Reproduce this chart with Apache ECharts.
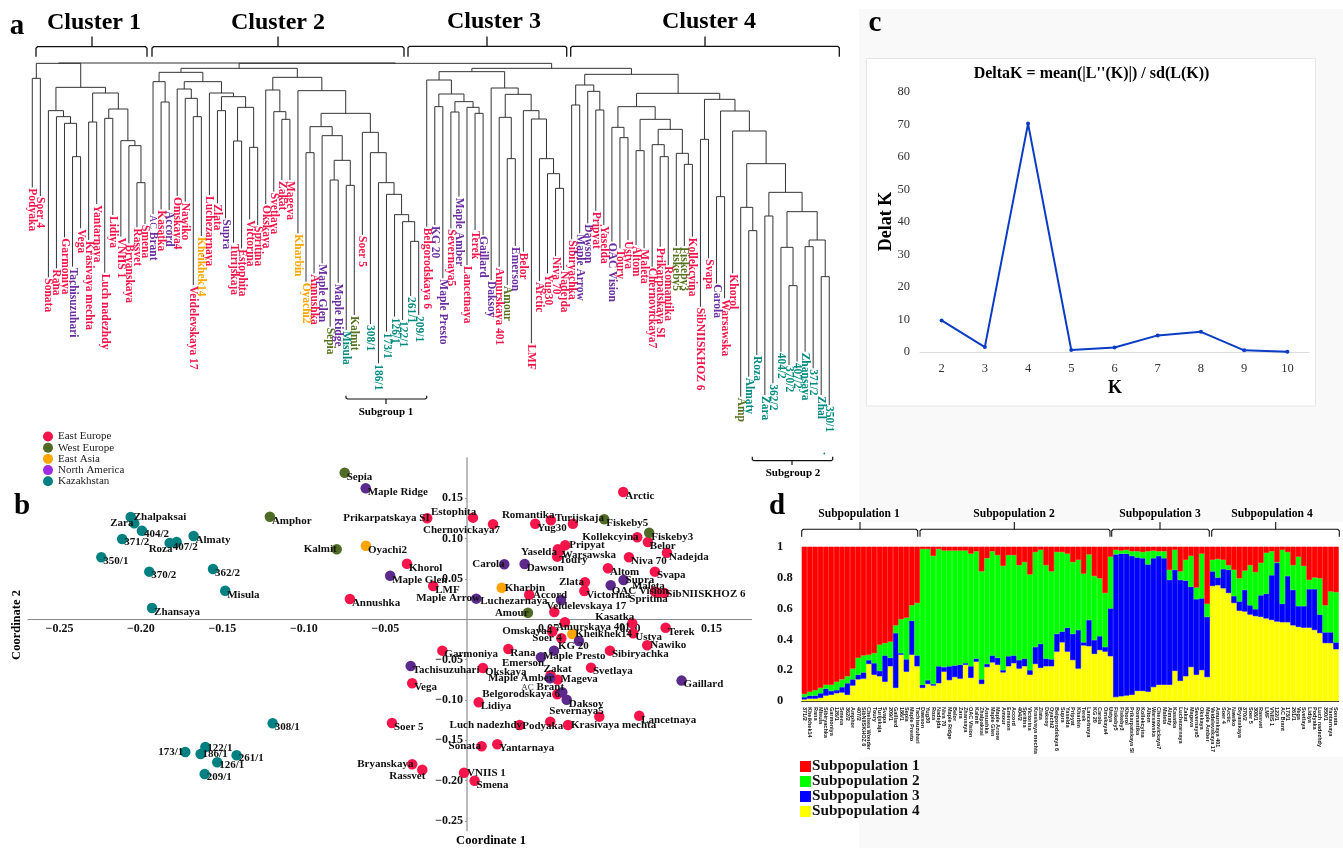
<!DOCTYPE html>
<html><head><meta charset="utf-8">
<style>html,body{margin:0;padding:0;background:#fff}#c{width:1343px;height:848px}</style>
<script src="https://cdn.jsdelivr.net/npm/echarts@6/dist/echarts.min.js"></script>
</head><body><div id="c"></div>
<script>
// ---------- panel a: dendrogram ----------
const leafNames = ['Podyaka','Soer 4','Sonata','Rana','Garmoniya','Tachisuzuhari','Vega','Krasivaya mechta','Yantarnaya','Luch nadezhdy','Lidiya','VNIIS 1','Bryanskaya','Rassvet','Smena',
'AC Brant','Kasatka','Accord','Omskaya4','Nawiko','Veidelevskaya 17','Kheikhek14','Luchezarnaya','Zlata','Supra','Turijskaja','Estophita','Victorina','Spritina','Okskaya','Svetlaya','Zakat','Mageva','Kharbin','Oyachi2','Annushka','Maple Glen','Sepia','Maple Ridge','Misula','Kalmit','Soer 5','308/1','186/1','173/1','126/1','122/1','261/1','209/1','Belgorodskaya 6',
'KG 20','Maple Presto','Severnaya5','Maple Amber','Lancetnaya','Terek','Gaillard','Daksoy','Amurskaya 401','Amour','Emerson','Belor','LMF','Arctic','Yug30','Niva 70','Nadejda',
'Sibiryachka','Maple Arrow','Dawson','Pripyat','Yaselda','OAC Vision','Toury','Ustya','Altom','Maleta','Chernovickaya7','Prikarpatskaya SI','Romantika','Fiskeby5','Fiskeby3','Kollekcyina','SibNIISKHOZ 6','Svapa','Carola','Warsawska','Khorol','Amphor','Almaty','Roza','Zara','362/2','404/2','370/2','407/2','Zhansaya','371/2','Zhalpaksai','350/1'];
const leafEnds = [562,588,832,805,712,800,685,720,612,818,645,710,730,682,672,
642,628,630,588,605,855,708,585,610,655,728,745,658,675,612,575,540,540,700,845,820,790,980,848,990,945,705,972,1090,995,950,960,888,945,680,
675,835,685,590,795,690,705,840,800,855,738,755,1030,843,820,768,810,
718,700,670,632,675,725,745,720,735,745,800,740,795,738,738,710,920,775,850,895,820,1190,1130,1065,1185,1150,1055,1095,1085,1055,1105,1185,1215];
const leafRegions = ['E','E','E','E','E','N','E','E','E','E','E','E','E','E','E',
'N','E','N','E','E','E','A','E','E','N','E','E','E','E','E','E','E','E','A','A','E','N','W','N','K','W','E','K','K','K','K','K','K','K','E',
'N','N','E','N','E','E','N','N','E','W','N','E','E','E','E','E','E',
'E','N','N','E','E','N','E','E','E','E','E','E','E','W','W','E','E','E','N','E','E','W','K','K','K','K','K','K','K','K','K','K','K'];
// labels cut short in the dendrogram of the reference
const leafTextOverride = {'Amphor':'Amp','Zhalpaksai':'Zhal'};
const cluster1 = [190,[235,'Podyaka','Soer 4'],[262,
  [332,'Sonata',[350,'Rana',[370,'Garmoniya',[470,'Tachisuzuhari','Vega']]]],
  [279,[366,'Krasivaya mechta','Yantarnaya'],[327,[355,'Luch nadezhdy','Lidiya'],[422,'VNIIS 1',[437,'Bryanskaya',[548,'Rassvet','Smena']]]]]]];
const cluster2 = [205,
  [217,[245,'AC Brant',[306,'Kasatka','Accord']],
    [245,[267,'Omskaya4',[295,'Nawiko',[350,'Veidelevskaya 17','Kheikhek14']]],
      [279,'Luchezarnaya',[290,[332,'Zlata','Supra'],[322,[423,'Turijskaja','Estophita'],[442,'Victorina','Spritina']]]]]],
  [232,[270,'Okskaya',[335,'Svetlaya',[358,'Zakat','Mageva']]],
    [272,'Kharbin',[340,
      [380,[458,'Oyachi2','Annushka'],[407,'Maple Glen',[481,[540,'Sepia','Maple Ridge'],[556,'Misula','Kalmit']]]],
      [397,'Soer 5',[458,'308/1',[548,'186/1',[583,'173/1',[644,'126/1',[665,'122/1',[724,'261/1','209/1']]]]]]]]]]];
const cluster3 = [215,
  [240,'Belgorodskaya 6',[282,[320,'KG 20','Maple Presto'],[305,[336,'Severnaya5','Maple Amber'],[322,'Lancetnaya',[340,'Terek','Gaillard']]]]],
  [264,'Daksoy',[283,[352,'Amurskaya 401',[476,'Amour','Emerson']],[332,'Belor',[357,'LMF',[476,'Arctic',[521,'Yug30',[565,'Niva 70','Nadejda']]]]]]]];
const cluster4 = [223,
  [255,[315,'Sibiryachka','Maple Arrow'],[274,'Dawson',[330,'Pripyat','Yaselda']]],
  [280,[320,[382,'OAC Vision',[413,'Toury','Ustya']],
      [358,[452,'Altom','Maleta'],[388,[434,'Chernovickaya7',[470,'Prikarpatskaya SI','Romantika']],[460,'Fiskeby5',[493,'Fiskeby3','Kollekcyina']]]]],
    [298,[418,'SibNIISKHOZ 6','Svapa'],[333,[590,'Carola','Warsawska'],[393,'Khorol',[491,[622,'Amphor',[692,'Almaty','Roza']],
      [577,[648,'Zara','362/2'],[635,[742,'404/2',[857,'370/2','407/2']],[720,[740,'Zhansaya','371/2'],[830,'Zhalpaksai','350/1']]]]]]]]]];
const treeRoot = [189,cluster1,[190,cluster2,[205,cluster3,cluster4]]];

// ---------- panel b: PCoA points [name, coord1, coord2] ----------
const eastEurope = [['Arctic',.0959,.1579],['Estophita',.0037,.1261],['Chernovickaya7',.0160,.1179],['Prikarpatskaya SI',-.0244,.1253],['Romantika',.0515,.1228],['Yug30',.0419,.1186],['Turijskaja',.0650,.1186],['Kollekcyina',.1045,.1017],['Belor',.1110,.0959],['Nadejda',.1227,.0826],['Niva 70',.0994,.0769],['Pripyat',.0603,.0918],['Yaselda',.0558,.0868],['Warsawska',.0569,.0851],['Toury',.0554,.0777],['Svapa',.1153,.0591],['Altom',.0865,.0633],['Zlata',.0724,.0459],['Victorina',.0720,.0351],['Maleta',.1153,.0343],['Spritina',.1168,.0330],['SibNIISKHOZ 6',.1211,.0326],['Luchezarnaya',.0382,.0305],['Veidelevskaya 17',.0536,.0091],['Khorol',-.0368,.0690],['LMF',-.0207,.0413],['Annushka',-.0718,.0252],['Kasatka',.1014,-.0050],['Amurskaya 401',.0601,-.0037],['Omskaya4',.0523,-.0153],['Soer 4',.0579,-.0236],['Ustya',.1020,-.0174],['Terek',.1219,-.0104],['Nawiko',.1106,-.0323],['Sibiryachka',.0877,-.0389],['Rana',.0254,-.0368],['Garmoniya',-.0151,-.0389],['Okskaya',.0098,-.0604],['Svetlaya',.0761,-.0600],['Zakat',.0513,-.0695],['Mageva',.0556,-.0749],['Belgorodskaya 6',.0554,-.0931],['Lidiya',.0072,-.1030],['Severnaya5',.0812,-.1208],['Lancetnaya',.1057,-.1196],['Podyaka',.0511,-.1270],['Luch nadezhdy',.0323,-.1311],['Krasivaya mechta',.0620,-.1311],['Sonata',.0090,-.1576],['Yantarnaya',.0186,-.1551],['VNIIS 1',-.0018,-.1903],['Smena',.0047,-.2003],['Vega',-.0336,-.0794],['Soer 5',-.0460,-.1287],['Bryanskaya',-.0336,-.1799],['Rassvet',-.0274,-.1866]];
const westEurope = [['Sepia',-.0750,.1819],['Amphor',-.1209,.1273],['Kalmit',-.0799,.0868],['Fiskeby5',.0842,.1241],['Fiskeby3',.1118,.1074],['Amour',.0374,.0082]];
const eastAsia = [['Oyachi2',-.0620,.0913],['Kharbin',.0213,.0392],['Kheikhek14',.0646,-.0182]];
const northAmerica = [['Maple Ridge',-.0621,.1625],['Maple Glen',-.0471,.0541],['Tachisuzuhari',-.0345,-.0579],['Carola',.0229,.0682],['Dawson',.0354,.0686],['Maple Arrow',.0057,.0256],['Supra',.0961,.0488],['OAC Vision',.0882,.0422],['Accord',.0577,.0239],['KG 20',.0687,-.0269],['Maple Presto',.0534,-.0389],['Emerson',.0454,-.0472],['Gaillard',.1317,-.0761],['Maple Amber',.0509,-.0732],['AC Brant',.0585,-.0906],['Daksoy',.0612,-.0998]];
const kazakhstan = [['Zhalpaksai',-.2063,.1269],['Zara',-.2041,.1191],['404/2',-.1994,.1099],['Almaty',-.1677,.1033],['371/2',-.2115,.0996],['407/2',-.1781,.0959],['Roza',-.1824,.0947],['350/1',-.2243,.0769],['370/2',-.1949,.0591],['362/2',-.1558,.0624],['Misula',-.1483,.0355],['Zhansaya',-.1932,.0140],['308/1',-.1192,-.1290],['173/1',-.1728,-.1646],['122/1',-.1605,-.1584],['186/1',-.1634,-.1671],['261/1',-.1413,-.1687],['126/1',-.1532,-.1774],['209/1',-.1609,-.1919]];
const coordTicksX = [-.25,-.2,-.15,-.1,-.05,.05,.1,.15];
const coordTicksY = [.15,.1,.05,-.05,-.1,-.15,-.2,-.25];
// label placement relative to each marker, in pixels (default is [2,4])
const labelOffsets = {'Zhalpaksai':[3,0],'Zara':[-24,0],'404/2':[2,3],'371/2':[2,3],'407/2':[-4,5],'Roza':[-21,6],'173/1':[-27,0],'122/1':[2,1],'186/1':[2,0],'261/1':[2,3],'126/1':[2,3],'209/1':[2,3],
'Kalmit':[-33,0],'Bryanskaya':[-55,0],'Rassvet':[-33,6],'Prikarpatskaya SI':[-84,0],'Estophita':[-42,-5],'Chernovickaya7':[-70,6],'Romantika':[-49,-5],'Turijskaja':[-18,-6],'Kollekcyina':[-55,0],'Pripyat':[4,0],'Yaselda':[-37,3],'Zlata':[-26,0],'Maleta':[-23,-5],'Spritina':[-28,6],'SibNIISKHOZ 6':[2,1],'Accord':[-28,-5],'Luchezarnaya':[-49,6],'Maple Arrow':[-60,0],'Carola':[-32,0],'Kharbin':[3,0],'OAC Vision':[1,6],'Supra':[2,0],'Veidelevskaya 17':[-8,-6],'Amour':[-33,0],'Kasatka':[-37,-6],'Amurskaya 401':[-9,5],'Omskaya4':[-50,0],'Soer 4':[-29,0],'Nawiko':[3,0],'Zakat':[-7,-6],'Mageva':[3,0],'Maple Amber':[-62,0],'AC Brant':[-41,-5],'Belgorodskaya 6':[-75,0],'Severnaya5':[-50,-5],'Podyaka':[-28,5],'Luch nadezhdy':[-70,0],'Krasivaya mechta':[3,0],'Sonata':[-33,0],'VNIIS 1':[3,0],'Kheikhek14':[3,0],'Emerson':[-39,6],'Maple Presto':[-11,6],'KG 20':[-21,5]};

// ---------- panel c: Delta K ----------
const kValues = ['2','3','4','5','6','7','8','9','10'];
const deltaK = [9.7,1.5,70.2,0.6,1.4,5.1,6.2,0.5,0.1];

// ---------- panel d: structure bar plot ----------
const accessions = ['371/2','Kheikhek14','Rana','Misula','Sibiryachka','Garmoniya','126/1','Smena','362/2','Amphor','407/2','SibNIISKHOZ 6','Chelsea Wonder','Toury','Turijskaja','Svapa','209/1','Gaillard','186/1','Sepia','Maple Presto','Tachisuzuhari',
'Dawson','Yug30','Roza','Nadejda','Niva 70','Maple Ridge','Belor','Zara','Zhansaya','OAC Vision','Kalmit','Zhalpaksai','Annushka','Maple Glen','Maple Arrow','Amour','Emerson','Accord','404/2','Spritina','Victorina','Krasivaya mechta','Zlata','Daksoy','Oyachi2','Belgorodskaya 6','Supra','Yaselda','Pripyat','Kharbin','Terek','Lancetnaya','KG 20','Carola','Omskaya4','Ustya',
'Fiskeby5','Fiskeby3','Khorol','Prikarpatskaya SI','Romantika','Kollekcyina','Altom','Warsawska','Chernovickaya7','Maleta','Almaty','Kasatka','Luchezarnaya','Zakat','Mageva','Severnaya5','Okskaya','Maple Amber',
'Veidelevskaya 17','Amurskaya 401','Soer 4','Arctic','Nawiko','Bryanskaya','370/2','Soer 5','308/1','Rassvet','LMF','VNIIS 1','122/1','AC Brant','173/1','261/1','Vega','Svetlaya','Lidiya','Podyaka','Luch nadezhdy','350/1','Yantarnaya','Sonata'];
// upper edge of each colour band, read bar by bar
const yellowTop = [.01,.015,.015,.02,.035,.04,.05,.055,.04,.10,.14,.145,.24,.17,.16,.125,.225,.085,.30,.19,.30,.225,
.085,.11,.10,.115,.19,.135,.155,.145,.235,.15,.255,.11,.22,.25,.235,.185,.225,.245,.21,.225,.17,.24,.215,.225,.225,.32,.38,.32,.265,.21,.36,.355,.305,.33,.32,.29,
.025,.03,.035,.04,.065,.065,.06,.09,.105,.105,.105,.195,.13,.16,.22,.17,.20,.155,
.745,.75,.73,.70,.635,.585,.58,.56,.55,.545,.535,.525,.515,.51,.51,.49,.48,.475,.475,.46,.44,.375,.375,.335];
const blueTop = [.025,.035,.035,.05,.08,.065,.07,.09,.115,.14,.17,.185,.265,.245,.195,.295,.28,.44,.31,.27,.52,.295,
.105,.135,.11,.225,.22,.225,.23,.235,.245,.225,.275,.14,.24,.295,.28,.20,.29,.295,.265,.275,.20,.35,.37,.275,.27,.435,.45,.475,.435,.46,.38,.525,.395,.42,.35,.60,
.95,.955,.955,.94,.93,.925,.885,.925,.94,.925,.785,.85,.785,.78,.74,.66,.665,.545,
.84,.80,.855,.85,.68,.645,.72,.62,.595,.685,.695,.815,.895,.63,.81,.72,.615,.615,.725,.725,.56,.445,.445,.38];
const greenTop = [.045,.06,.07,.085,.105,.105,.125,.14,.16,.21,.28,.295,.30,.31,.365,.375,.385,.49,.53,.54,.62,.635,
.985,.985,.94,.985,.975,.975,.975,.975,.975,.955,.97,.84,.925,.97,.945,.875,.945,.945,.88,.90,.82,.965,.98,.88,.84,.965,.965,.955,.90,.915,.825,.95,.81,.795,.70,.935,
.98,.975,.98,.97,.97,.965,.97,.975,.97,.97,.85,.98,.84,.915,.94,.735,.955,.63,
.915,.92,.915,.88,.85,.795,.845,.88,.835,.895,.96,.97,.90,.98,.965,.88,.935,.875,.785,.80,.795,.62,.71,.705];

// ---------- helpers ----------
const SERIF = '"Liberation Serif","Times New Roman",serif';
const regionColor = {E:'#f5154a',W:'#4f6b25',A:'#ffa500',N:'#5b2a8c',K:'#008080'};
const labelColor = {E:'#f5154a',W:'#55731f',A:'#ffa500',N:'#6a2ca0',K:'#008a80'};
const segments = [];
function walk(n){
  if (typeof n === 'string'){ const i = leafNames.indexOf(n); return {x:i,y:leafEnds[i]}; }
  const a = walk(n[1]), b = walk(n[2]), h = n[0];
  segments.push([a.x,h,b.x,h],[a.x,h,a.x,a.y],[b.x,h,b.x,b.y]);
  return {x:(a.x+b.x)/2,y:h};
}
walk(treeRoot);
const pts = (rows,code,name)=>({
  type:'scatter',name,xAxisIndex:1,yAxisIndex:1,symbolSize:10.5,
  itemStyle:{color:regionColor[code],opacity:1},
  label:{show:true,position:'inside',align:'left',verticalAlign:'middle',color:'#111',fontFamily:SERIF,fontWeight:'bold',fontSize:11,
    formatter:p=>p.name==='AC Brant'?'{t|AC} Brant':p.name,
    rich:{t:{fontFamily:SERIF,fontWeight:'normal',fontSize:9,color:'#333'}}},
  data:rows.map(r=>({name:r[0],value:[r[1],r[2]],label:{offset:labelOffsets[r[0]]||[2,4]}}))
});
const txt=(text,x,y,size,opt={})=>({type:'text',x,y,rotation:opt.rot||0,silent:true,
  style:{text,fontFamily:SERIF,fontWeight:opt.w||'bold',fontSize:size,fill:opt.c||'#000',align:opt.a||'center',verticalAlign:'middle'}});
const bracket=(x0,x1,xc,yBar,yTip,yTick,lw=1.3)=>[
  {type:'polyline',silent:true,shape:{points:[[x0,yTip],[x0,yBar+1.5],[x0+1.5,yBar],[x1-1.5,yBar],[x1,yBar+1.5],[x1,yTip]]},style:{stroke:'#111',lineWidth:lw,fill:null}},
  {type:'line',silent:true,shape:{x1:xc,y1:yBar,x2:xc,y2:yTick},style:{stroke:'#111',lineWidth:lw}}];
const bracketUp=(x0,x1,xc,yBar,yTip,yTick)=>[
  {type:'polyline',silent:true,shape:{points:[[x0,yTip],[x0,yBar-1],[x0+1.5,yBar],[x1-1.5,yBar],[x1,yBar-1],[x1,yTip]]},style:{stroke:'#111',lineWidth:1.2,fill:null}},
  {type:'line',silent:true,shape:{x1:xc,y1:yBar,x2:xc,y2:yTick},style:{stroke:'#111',lineWidth:1.2}}];

const graphicEls = [
  {type:'rect',silent:true,shape:{x:859,y:9,width:484,height:839},style:{fill:'#f9f9f9'}},
  {type:'rect',silent:true,shape:{x:866.5,y:58.5,width:449,height:347.5},style:{fill:'#fff',stroke:'#e6e6e6',lineWidth:1}},
  {type:'rect',silent:true,shape:{x:859,y:522,width:484,height:235},style:{fill:'#fff'}},
  txt('a',17,27,29),txt('b',22,507,29),txt('c',875,24,29),txt('d',777,507,29),
  txt('Cluster 1',94,23,24),txt('Cluster 2',278,23,24),txt('Cluster 3',494,22,24),txt('Cluster 4',709,22,24),
  ...bracket(36,147,92,46.7,56.7,36.5),...bracket(152,404,278,46.7,56.7,36.5),...bracket(408,566.7,487,46.3,56.7,36.5),...bracket(570.7,839.3,705,46.3,56.7,36.5),
  ...bracketUp(346,426.7,386,399,395.7,404),txt('Subgroup 1',386,412,11),
  ...bracketUp(752.3,832.7,792,460.7,456.7,465),txt('Subgroup 2',793,473,11),
  {type:'circle',silent:true,shape:{cx:824.3,cy:453.5,r:0.9},style:{fill:'#008a80'}},
  txt('Coordinate 2',17,625,12.5,{rot:Math.PI/2}),txt('Coordinate 1',491,841,12.5),
  txt("DeltaK = mean(|L''(K)|) / sd(L(K))",1091.5,74,16),
  txt('Delat K',886,221.5,18,{rot:Math.PI/2}),txt('K',1115,388,18),
  txt('Subpopulation 1',859,514,11.6),txt('Subpopulation 2',1014,514,11.6),txt('Subpopulation 3',1160,514,11.6),txt('Subpopulation 4',1272,514,11.6),
  ...bracket(801.7,917.7,860,529.3,536.7,522,1.1),...bracket(920,1110,1014.3,529.3,536.7,522,1.1),...bracket(1111.7,1209.3,1160,529.3,536.7,522,1.1),...bracket(1211.7,1339.3,1275.7,529.3,536.7,522,1.1)
];

const chart = echarts.init(document.getElementById('c'),null,{renderer:'canvas'});
const hiddenAxis=(g,extra)=>Object.assign({type:'value',gridIndex:g,show:false},extra);
const stackBar=(name,color,vals)=>({type:'bar',name,xAxisIndex:3,yAxisIndex:3,stack:'q',barWidth:'100%',
  itemStyle:{color,borderColor:color,borderWidth:0.6},data:vals});
chart.setOption({
  animation:false,
  backgroundColor:'#fff',
  textStyle:{fontFamily:SERIF},
  graphic:{elements:graphicEls},
  legend:[
    {left:43,top:431,orient:'vertical',padding:0,itemGap:0.2,itemWidth:10,itemHeight:10,icon:'circle',selectedMode:false,
      textStyle:{fontFamily:SERIF,fontSize:11,color:'#222',padding:[0,0,0,0]},itemStyle:{opacity:1},
      data:[{name:'East Europe'},{name:'West Europe'},{name:'East Asia'},{name:'North America',itemStyle:{color:'#a02be0'}},{name:'Kazakhstan'}]},
    {left:800,top:759,orient:'vertical',padding:0,itemGap:0,itemWidth:9,itemHeight:9,icon:'rect',selectedMode:false,
      textStyle:{fontFamily:SERIF,fontSize:15.3,fontWeight:'bold',color:'#111',padding:[0,0,0,-3]},
      data:['Subpopulation 1','Subpopulation 2','Subpopulation 3','Subpopulation 4']}
  ],
  grid:[
    {left:0,top:0,width:850,height:470,containLabel:false},
    {left:28,top:458,width:723.7,height:372.7},
    {left:920,top:91.7,width:389,height:260.3},
    {left:801.7,top:546.7,width:537,height:154.3}
  ],
  xAxis:[
    hiddenAxis(0,{min:-4.012,max:101.578}),
    {type:'value',gridIndex:1,min:-.2693,max:.1747,position:'bottom',offset:-211.4,splitLine:{show:false},
      axisLine:{onZero:false,lineStyle:{color:'#8a8a8a',width:1}},axisTick:{show:false},
      axisLabel:{customValues:coordTicksX,formatter:v=>v.toFixed(2).replace('-','\u2212'),color:'#111',fontFamily:SERIF,fontWeight:'bold',fontSize:12,margin:4}},
    {type:'category',gridIndex:2,data:kValues,boundaryGap:true,
      axisLine:{lineStyle:{color:'#dcdcdc'}},axisTick:{show:false},axisLabel:{color:'#333',fontFamily:SERIF,fontSize:12.5,margin:10}},
    {type:'category',gridIndex:3,data:accessions,boundaryGap:true,
      axisLine:{lineStyle:{color:'#333',width:1}},axisTick:{show:false},
      axisLabel:{interval:0,rotate:-90,fontSize:5.5,fontWeight:'bold',fontFamily:'"Liberation Sans",sans-serif',color:'#111',margin:6,hideOverlap:false}}
  ],
  yAxis:[
    hiddenAxis(0,{min:0,max:1410,inverse:true}),
    {type:'value',gridIndex:1,min:-.2623,max:.2001,position:'left',offset:-439,splitLine:{show:false},
      axisLine:{onZero:false,lineStyle:{color:'#aaa',width:1.6}},axisTick:{show:true,length:2,customValues:coordTicksY,lineStyle:{color:'#999'}},
      axisLabel:{customValues:coordTicksY,formatter:v=>v.toFixed(2).replace('-','\u2212'),color:'#111',fontFamily:SERIF,fontWeight:'bold',fontSize:12,margin:4}},
    {type:'value',gridIndex:2,min:0,max:80,interval:10,splitLine:{show:false},axisLine:{show:false},axisTick:{show:false},
      axisLabel:{color:'#333',fontFamily:SERIF,fontSize:12.5,margin:10}},
    {type:'value',gridIndex:3,min:0,max:1,interval:.2,splitLine:{show:false},axisLine:{show:false},axisTick:{show:false},
      axisLabel:{align:'left',margin:24.7,color:'#111',fontFamily:SERIF,fontWeight:'bold',fontSize:12.5}}
  ],
  series:[
    {type:'custom',name:'tree',xAxisIndex:0,yAxisIndex:0,silent:true,clip:false,coordinateSystem:'cartesian2d',encode:{x:[0,2],y:[1,3]},data:segments,
      renderItem:(p,api)=>{const s=api.coord([api.value(0),api.value(1)]),e=api.coord([api.value(2),api.value(3)]);
        return {type:'line',shape:{x1:s[0],y1:s[1],x2:e[0],y2:e[1]},style:{stroke:'#333',lineWidth:1}};}},
    {type:'custom',name:'leaves',xAxisIndex:0,yAxisIndex:0,silent:true,clip:false,coordinateSystem:'cartesian2d',encode:{x:0,y:1},
      data:leafNames.map((n,i)=>[i,leafEnds[i]]),
      renderItem:(p,api)=>{const c=api.coord([api.value(0),api.value(1)]),n=leafNames[p.dataIndex];
        return {type:'text',x:c[0],y:c[1]+1,rotation:-Math.PI/2,silent:true,style:{
          text:n==='AC Brant'?'{t|AC} Brant':(leafTextOverride[n]||n),fill:labelColor[leafRegions[p.dataIndex]],fontFamily:SERIF,fontWeight:'bold',fontSize:11.5,align:'left',verticalAlign:'middle',
          rich:{t:{fontFamily:SERIF,fontWeight:'normal',fontSize:10,fill:labelColor.N}}}};}},
    pts(eastEurope,'E','East Europe'),pts(westEurope,'W','West Europe'),pts(eastAsia,'A','East Asia'),pts(northAmerica,'N','North America'),pts(kazakhstan,'K','Kazakhstan'),
    {type:'line',name:'Delta K',xAxisIndex:2,yAxisIndex:2,data:deltaK,symbol:'circle',symbolSize:4,lineStyle:{color:'#0a3cc4',width:2},itemStyle:{color:'#0a3cc4'}},
    stackBar('Subpopulation 4','#ffff00',yellowTop),
    stackBar('Subpopulation 3','#0000ff',blueTop.map((v,i)=>v-yellowTop[i])),
    stackBar('Subpopulation 2','#00ff00',greenTop.map((v,i)=>v-blueTop[i])),
    stackBar('Subpopulation 1','#ff0000',greenTop.map(v=>1-v))
  ]
});
</script></body></html>
